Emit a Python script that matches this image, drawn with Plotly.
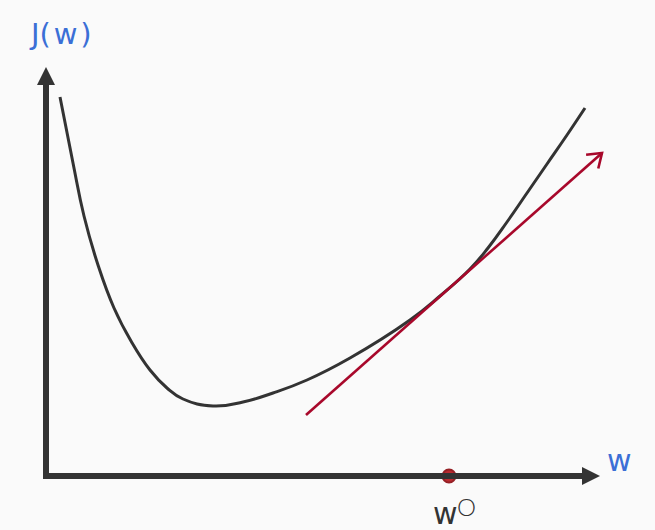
import numpy as np
import plotly.graph_objects as go

# cost curve J(w) (1 unit = 50 px, origin at axes corner)
w_curve = [0.28, 0.54, 0.76, 1.04, 1.36, 1.70, 2.08, 2.42, 2.74, 3.34, 3.94,
           4.54, 5.22, 6.08, 7.28, 7.88, 8.48, 8.84, 9.22, 9.62, 10.02, 10.42, 10.78]
j_curve = [7.58, 6.26, 5.20, 4.22, 3.36, 2.70, 2.12, 1.76, 1.54, 1.40, 1.48,
           1.66, 1.92, 2.36, 3.12, 3.60, 4.14, 4.56, 5.08, 5.66, 6.24, 6.82, 7.36]

# tangent (gradient direction) arrow: tail -> tip
tangent_w = [5.20, 11.12]
tangent_j = [1.22, 6.46]

w_opt = 8.06

x_axis_end = 11.08
y_axis_end = 8.18

DARK = "#333333"
RED = "#a8082b"
BLUE = "#3b6fd6"
BG = "#fafafa"

fig = go.Figure()

fig.add_trace(go.Scatter(
    x=w_curve, y=j_curve, mode="lines",
    line=dict(color=DARK, width=3, shape="spline", smoothing=1.3),
    hoverinfo="skip", showlegend=False,
))

# red tangent with open chevron head
tx, ty = np.array(tangent_w), np.array(tangent_j)
d = np.array([tx[1] - tx[0], ty[1] - ty[0]])
d = d / np.hypot(*d)
arm = 0.32
rot = np.deg2rad(35)
arms = []
for s in (1, -1):
    c, sn = np.cos(s * rot), np.sin(s * rot)
    v = np.array([c * -d[0] - sn * -d[1], sn * -d[0] + c * -d[1]])
    arms.append((tx[1] + arm * v[0], ty[1] + arm * v[1]))
fig.add_trace(go.Scatter(
    x=[tx[0], tx[1], None, arms[0][0], tx[1], arms[1][0]],
    y=[ty[0], ty[1], None, arms[0][1], ty[1], arms[1][1]],
    mode="lines", line=dict(color=RED, width=2.6),
    hoverinfo="skip", showlegend=False,
))

head_len, head_half = 0.36, 0.18
shapes = [
    dict(type="line", x0=0, y0=-0.06, x1=0, y1=y_axis_end - head_len,
         line=dict(color=DARK, width=6)),
    dict(type="path",
         path=f"M{-head_half},{y_axis_end - head_len} L{head_half},{y_axis_end - head_len} L0,{y_axis_end} Z",
         fillcolor=DARK, line=dict(width=0)),
    dict(type="line", x0=-0.06, y0=0, x1=x_axis_end - head_len, y1=0,
         line=dict(color=DARK, width=6)),
    dict(type="path",
         path=f"M{x_axis_end - head_len},{-head_half} L{x_axis_end - head_len},{head_half} L{x_axis_end},0 Z",
         fillcolor=DARK, line=dict(width=0)),
]

fig.add_trace(go.Scatter(
    x=[w_opt], y=[0], mode="markers",
    marker=dict(size=13, color="#bb2a30", line=dict(color="#952025", width=2)),
    hoverinfo="skip", showlegend=False,
))

font = "'DejaVu Sans', sans-serif"
annotations = [
    dict(x=0.28, y=8.84, text="J(\u200aw\u200a)", showarrow=False,
         font=dict(family=font, size=29, color=BLUE)),
    dict(x=11.46, y=0.32, text="w", showarrow=False,
         font=dict(family=font, size=30, color=BLUE)),
    dict(x=7.98, y=-0.74, text="w", showarrow=False,
         font=dict(family=font, size=30, color=DARK)),
    dict(x=8.40, y=-0.60, text="O", showarrow=False,
         font=dict(family="Lato, sans-serif", size=24, color=DARK, weight=300)),
]

fig.update_layout(
    width=655, height=530,
    margin=dict(l=0, r=0, t=0, b=0),
    paper_bgcolor=BG, plot_bgcolor=BG,
    xaxis=dict(range=[-0.92, 12.18], visible=False, fixedrange=True),
    yaxis=dict(range=[-1.08, 9.52], visible=False, fixedrange=True),
    shapes=shapes, annotations=annotations,
)

fig.write_html(
    "out.html",
    config=dict(displayModeBar=False),
    post_script="document.body.style.margin='0';document.body.style.background='#fafafa';",
)
